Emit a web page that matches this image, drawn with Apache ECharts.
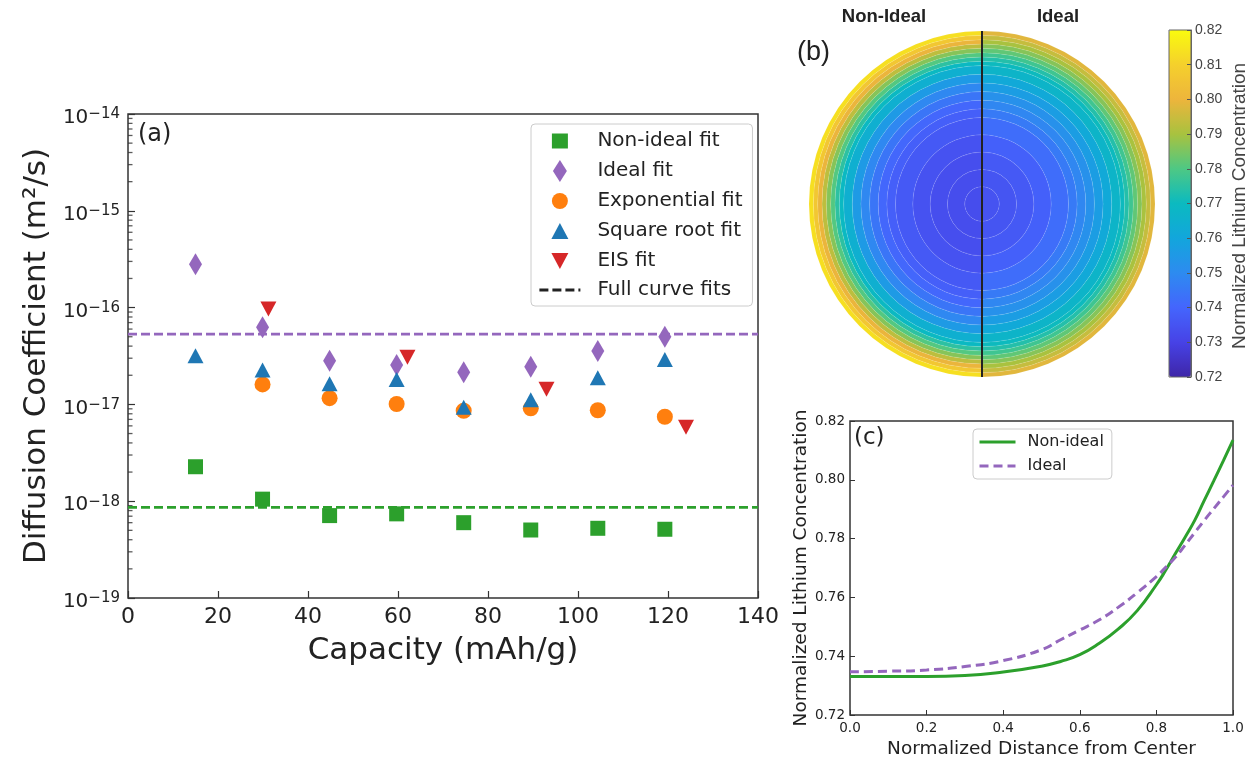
<!DOCTYPE html>
<html>
<head>
<meta charset="utf-8">
<script src="https://cdn.jsdelivr.net/npm/echarts@6/dist/echarts.min.js"></script>
<style>
  html, body { margin: 0; padding: 0; background: #fff; }
  #chart { width: 1254px; height: 761px; }
</style>
</head>
<body>
<div id="chart"></div>
<script>
// ---- panel (a): diffusion coefficients ----
var capacity = [15, 29.9, 44.8, 59.7, 74.6, 89.5, 104.4, 119.3];
var nonIdealFit = [2.27e-18, 1.05e-18, 7.1e-19, 7.4e-19, 6.0e-19, 5.04e-19, 5.25e-19, 5.13e-19];
var idealFit = [2.8e-16, 6.25e-17, 2.83e-17, 2.55e-17, 2.15e-17, 2.45e-17, 3.56e-17, 5.0e-17];
var expCapacity = [29.9, 44.8, 59.7, 74.6, 89.5, 104.4, 119.3];
var expFit = [1.61e-17, 1.16e-17, 1.01e-17, 8.6e-18, 9.1e-18, 8.7e-18, 7.46e-18];
var sqrtFit = [3.18e-17, 2.27e-17, 1.63e-17, 1.81e-17, 9.35e-18, 1.12e-17, 1.88e-17, 2.91e-17];
var eisCapacity = [31.2, 62.1, 93.0, 124.0];
var eisFit = [9.66e-17, 3.07e-17, 1.43e-17, 5.8e-18];
var fullCurveIdeal = 5.33e-17;
var fullCurveNonIdeal = 8.65e-19;

// ---- panels (b) and (c): concentration profiles ----
var distance = [0, 0.1, 0.2, 0.3, 0.4, 0.5, 0.55, 0.6, 0.65, 0.7, 0.75, 0.8, 0.825, 0.85, 0.875, 0.9, 0.925, 0.95, 0.975, 1.0];
var nonIdealConc = [0.7331, 0.7331, 0.7331, 0.7334, 0.7346, 0.7366, 0.7382, 0.7405, 0.7443, 0.7492, 0.7555, 0.7643, 0.7694, 0.7750, 0.7805, 0.7862, 0.7930, 0.7997, 0.8065, 0.8135];
var idealConc = [0.7347, 0.7349, 0.7353, 0.7365, 0.7385, 0.7422, 0.7456, 0.7489, 0.7523, 0.7566, 0.7616, 0.7671, 0.7703, 0.7737, 0.7778, 0.7820, 0.7862, 0.7902, 0.7942, 0.7982];

var parula = ['#3e26a8', '#4742e6', '#4465fd', '#2d8bf0', '#12a6dc', '#0bbac0',
  '#4ec884', '#a8c23f', '#edb53c', '#f5d02c', '#f9fb0e'];

// marker shapes; legend versions carry an invisible 22px frame so they keep their size
var DIAMOND = 'path://M0,-11L6.5,0L0,11L-6.5,0Z';
var SQUARE = 'path://M0,0L1,0L1,1L0,1Z';
var CIRCLE = 'path://M1,0A1,1,0,1,1,-1,0A1,1,0,1,1,1,0Z';
var TRI_UP = 'path://M0,-1L1,1L-1,1Z';
var TRI_DOWN = 'path://M-1,-1L1,-1L0,1Z';
var LEG_SQUARE = 'path://M-11,-11M11,11M-8,-7.5L8,-7.5L8,7.5L-8,7.5Z';
var LEG_DIAMOND = 'path://M0,-11L7,0L0,11L-7,0Z';
var LEG_CIRCLE = 'path://M-11,-11M11,11M8,0A8,8,0,1,1,-8,0A8,8,0,1,1,8,0Z';
var LEG_TRI_UP = 'path://M-11,-11M11,11M0,-8L8.5,8L-8.5,8Z';
var LEG_TRI_DOWN = 'path://M-11,-11M11,11M-8.5,-8L8.5,-8L0,8Z';

function pairs(xs, ys) {
  return xs.map(function(x, i) { return [x, ys[i]]; });
}

// minor ticks of the log axis (2..9 in every decade)
var minorTicks = [];
for (var d = -19; d < -14; d++) {
  for (var k = 2; k <= 9; k++) {
    minorTicks.push([0, k * Math.pow(10, d)]);
  }
}

// rings of the sphere section, one band per profile point
var rings = [];
for (var i = 1; i < distance.length; i++) {
  rings.push([0, distance[i - 1], distance[i], nonIdealConc[i]]);
  rings.push([1, distance[i - 1], distance[i], idealConc[i]]);
}

var txt = '#222';
var noDot = { opacity: 0, color: 'rgba(0,0,0,0)', borderWidth: 0 };

function scatter(name, data, symbol, size, color) {
  return {
    name: name, type: 'scatter', xAxisIndex: 0, yAxisIndex: 0,
    data: data, symbol: symbol, symbolSize: size,
    itemStyle: { color: color, opacity: 1 }
  };
}

var series = [
  {
    name: 'ideal full curve', type: 'line', xAxisIndex: 0, yAxisIndex: 0,
    data: [[0, fullCurveIdeal], [140, fullCurveIdeal]], symbol: 'none', silent: true,
    lineStyle: { color: '#9467bd', width: 2.8, type: [9, 4] }
  },
  {
    name: 'non-ideal full curve', type: 'line', xAxisIndex: 0, yAxisIndex: 0,
    data: [[0, fullCurveNonIdeal], [140, fullCurveNonIdeal]], symbol: 'none', silent: true,
    lineStyle: { color: '#2ca02c', width: 2.8, type: [9, 4] }
  },
  {
    name: 'minor', type: 'scatter', xAxisIndex: 0, yAxisIndex: 0, silent: true, clip: false,
    data: minorTicks, symbol: 'rect', symbolSize: [4.5, 1.3], symbolOffset: [2.25, 0],
    itemStyle: { color: '#333' }, z: 1
  },
  scatter('Non-ideal fit', pairs(capacity, nonIdealFit), SQUARE, 15, '#2ca02c'),
  scatter('Ideal fit', pairs(capacity, idealFit), DIAMOND, [13, 22], '#9467bd'),
  scatter('Exponential fit', pairs(expCapacity, expFit), CIRCLE, 16, '#ff7f0e'),
  scatter('Square root fit', pairs(capacity, sqrtFit), TRI_UP, [16, 15], '#1f77b4'),
  scatter('EIS fit', pairs(eisCapacity, eisFit), TRI_DOWN, [16, 15], '#d62728'),
  {
    name: 'Full curve fits', type: 'line', xAxisIndex: 0, yAxisIndex: 0,
    data: [], symbol: 'none', color: '#222',
    lineStyle: { color: '#222', width: 2.8, type: [9, 4] }
  },
  {
    name: 'section', type: 'custom', xAxisIndex: 1, yAxisIndex: 1, silent: true,
    data: rings,
    renderItem: function(params, api) {
      var c = api.coord([0, 0]);
      var r0 = api.size([api.value(1), 0])[0];
      var r1 = api.size([api.value(2), 0])[0];
      var right = api.value(0) === 1;
      return {
        type: 'sector',
        shape: {
          cx: c[0], cy: c[1], r0: r0, r: r1,
          startAngle: right ? -Math.PI / 2 : Math.PI / 2,
          endAngle: right ? Math.PI / 2 : Math.PI * 1.5,
          clockwise: true
        },
        style: { fill: api.visual('color'), stroke: 'rgba(255,255,255,0.16)', lineWidth: 0.5 }
      };
    },
    markLine: {
      silent: true, symbol: 'none', label: { show: false },
      lineStyle: { color: '#222', width: 2, type: 'solid' },
      data: [{ xAxis: 0 }]
    }
  },
  {
    name: 'Non-ideal', type: 'line', xAxisIndex: 2, yAxisIndex: 2,
    data: pairs(distance, nonIdealConc), smooth: 0.5, showSymbol: false, symbol: 'none',
    color: '#2ca02c', lineStyle: { color: '#2ca02c', width: 3 }
  },
  {
    name: 'Ideal', type: 'line', xAxisIndex: 2, yAxisIndex: 2,
    data: pairs(distance, idealConc), smooth: 0.5, showSymbol: false, symbol: 'none',
    color: '#9467bd', lineStyle: { color: '#9467bd', width: 3, type: [9, 5] }
  }
];

var option = {
  animation: false,
  backgroundColor: '#fff',
  textStyle: { fontFamily: 'DejaVu Sans', color: txt },
  grid: [
    { left: 128, top: 114, width: 630, height: 484, show: true, borderColor: '#333', borderWidth: 1.5, backgroundColor: 'transparent' },
    { left: 809, top: 31, width: 346, height: 346 },
    { left: 850, top: 421, width: 383, height: 294, show: true, borderColor: '#333', borderWidth: 1.5, backgroundColor: 'transparent' },
    { left: 1169, top: 30, width: 22, height: 347, show: true, borderColor: '#666', borderWidth: 1, backgroundColor: 'transparent', z: 10 }
  ],
  xAxis: [
    {
      gridIndex: 0, type: 'value', min: 0, max: 140, interval: 20,
      name: 'Capacity (mAh/g)', nameLocation: 'middle', nameGap: 37,
      nameTextStyle: { fontSize: 31, color: txt },
      axisLine: { show: false }, splitLine: { show: false },
      axisTick: { inside: true, length: 7, lineStyle: { color: '#333', width: 1.2 } },
      axisLabel: { fontSize: 22, color: txt, margin: 8 }
    },
    { gridIndex: 1, type: 'value', min: -1, max: 1, show: false },
    {
      gridIndex: 2, type: 'value', min: 0, max: 1, interval: 0.2,
      name: 'Normalized Distance from Center', nameLocation: 'middle', nameGap: 25,
      nameTextStyle: { fontSize: 18.5, color: txt },
      axisLine: { show: false }, splitLine: { show: false },
      axisTick: { inside: true, length: 5, lineStyle: { color: '#333', width: 1 } },
      axisLabel: { fontSize: 13.5, color: txt, margin: 6, formatter: function(v) { return v.toFixed(1); } }
    },
    { gridIndex: 3, type: 'value', min: 0, max: 1, show: false }
  ],
  yAxis: [
    {
      gridIndex: 0, type: 'log', logBase: 10, min: 1e-19, max: 1e-14,
      name: 'Diffusion Coefficient (m\u00b2/s)', nameLocation: 'middle', nameGap: 76,
      nameTextStyle: { fontSize: 31, color: txt },
      axisLine: { show: false }, splitLine: { show: false },
      axisTick: { inside: true, length: 7, lineStyle: { color: '#333', width: 1.2 } },
      axisLabel: {
        fontSize: 20, color: txt, margin: 8, padding: [8, 0, 0, 0],
        formatter: function(v) {
          var e = Math.round(Math.log(v) / Math.LN10);
          return '10{sup|\u2212' + Math.abs(e) + '}';
        },
        rich: { sup: { fontSize: 15, color: txt, padding: [0, 0, 7, 0] } }
      }
    },
    { gridIndex: 1, type: 'value', min: -1, max: 1, show: false },
    {
      gridIndex: 2, type: 'value', min: 0.72, max: 0.82, interval: 0.02,
      name: 'Normalized Lithium Concentration', nameLocation: 'middle', nameGap: 39,
      nameTextStyle: { fontSize: 18.5, color: txt },
      axisLine: { show: false }, splitLine: { show: false },
      axisTick: { inside: true, length: 5, lineStyle: { color: '#333', width: 1 } },
      axisLabel: { fontSize: 13.5, color: txt, margin: 5, formatter: function(v) { return v.toFixed(2); } }
    },
    {
      gridIndex: 3, type: 'value', position: 'right', min: 0.72, max: 0.82, interval: 0.01, z: 10,
      axisLine: { show: true, onZero: false, lineStyle: { color: '#666', width: 1 } }, splitLine: { show: false },
      axisTick: { inside: true, length: 4, lineStyle: { color: '#555', width: 1 } },
      axisLabel: { fontFamily: 'Liberation Sans', fontSize: 14, color: '#444', margin: 4, formatter: function(v) { return v.toFixed(2); } }
    }
  ],
  visualMap: {
    type: 'continuous', min: 0.72, max: 0.82, dimension: 3, seriesIndex: 9, z: 1,
    left: 1169, top: 30, itemWidth: 22, itemHeight: 347, padding: 0,
    calculable: false, hoverLink: false, inRange: { color: parula }
  },
  legend: [
    {
      orient: 'vertical', left: 531, top: 124, padding: [6, 10, 6, 7],
      itemWidth: 41, itemHeight: 22, itemGap: 8,
      backgroundColor: 'rgba(255,255,255,0.8)', borderColor: '#ccc', borderWidth: 1, borderRadius: 4,
      textStyle: { fontSize: 20, color: txt, padding: [0, 0, 0, 12] },
      lineStyle: { width: 2.8 },
      selectedMode: false,
      data: [
        { name: 'Non-ideal fit', icon: LEG_SQUARE },
        { name: 'Ideal fit', icon: LEG_DIAMOND },
        { name: 'Exponential fit', icon: LEG_CIRCLE },
        { name: 'Square root fit', icon: LEG_TRI_UP },
        { name: 'EIS fit', icon: LEG_TRI_DOWN },
        { name: 'Full curve fits', itemStyle: noDot }
      ]
    },
    {
      orient: 'vertical', left: 973, top: 429, padding: [5, 8, 5, 5],
      itemWidth: 36, itemHeight: 14, itemGap: 8,
      backgroundColor: 'rgba(255,255,255,0.8)', borderColor: '#ccc', borderWidth: 1, borderRadius: 4,
      textStyle: { fontSize: 16, color: txt, padding: [0, 0, 0, 7] },
      lineStyle: { width: 3 },
      selectedMode: false,
      data: [
        { name: 'Non-ideal', itemStyle: noDot },
        { name: 'Ideal', itemStyle: noDot }
      ]
    }
  ],
  graphic: [
    { type: 'text', x: 138, y: 135, style: { text: '(a)', fontSize: 24, fontFamily: 'DejaVu Sans', fill: txt, textAlign: 'left', textVerticalAlign: 'middle', align: 'left', verticalAlign: 'middle' } },
    { type: 'text', x: 797, y: 53, style: { text: '(b)', fontSize: 27, fontFamily: 'Liberation Sans', fill: txt, textAlign: 'left', textVerticalAlign: 'middle', align: 'left', verticalAlign: 'middle' } },
    { type: 'text', x: 854, y: 438, style: { text: '(c)', fontSize: 23, fontFamily: 'DejaVu Sans', fill: txt, textAlign: 'left', textVerticalAlign: 'middle', align: 'left', verticalAlign: 'middle' } },
    { type: 'text', x: 884, y: 17, style: { text: 'Non-Ideal', fontSize: 18.5, fontWeight: 'bold', fontFamily: 'Liberation Sans', fill: txt, textAlign: 'center', textVerticalAlign: 'middle', align: 'center', verticalAlign: 'middle' } },
    { type: 'text', x: 1058, y: 17, style: { text: 'Ideal', fontSize: 18.5, fontWeight: 'bold', fontFamily: 'Liberation Sans', fill: txt, textAlign: 'center', textVerticalAlign: 'middle', align: 'center', verticalAlign: 'middle' } },
    { type: 'text', x: 1240, y: 206, rotation: Math.PI / 2, style: { text: 'Normalized Lithium Concentration', fontSize: 19, fontFamily: 'Liberation Sans', fill: '#444', textAlign: 'center', textVerticalAlign: 'middle', align: 'center', verticalAlign: 'middle' } }
  ],
  series: series
};

var chart = echarts.init(document.getElementById('chart'));
chart.setOption(option);
</script>
</body>
</html>
